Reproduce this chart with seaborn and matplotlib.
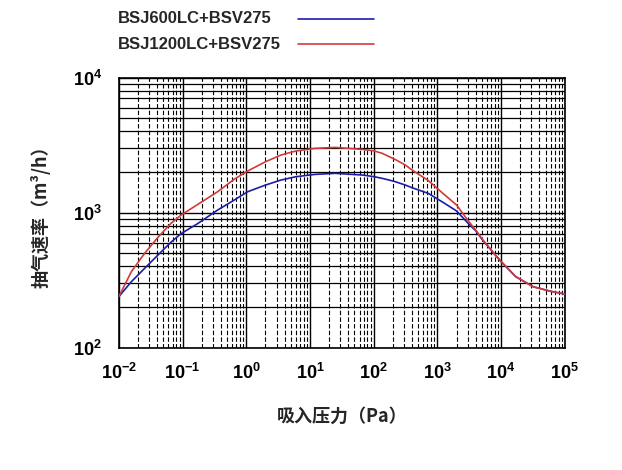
import numpy as np
import pandas as pd
import seaborn as sns
import matplotlib.pyplot as plt
from matplotlib.lines import Line2D
from matplotlib.ticker import LogLocator, FuncFormatter, NullFormatter

# suction pressure (Pa) and pumping speed (m3/h)
pressure = [0.01, 0.0157, 0.0254, 0.041, 0.066, 0.095, 0.173, 0.355, 0.646,
            1.05, 2, 3.5, 6, 12, 25, 66, 100, 136, 178, 220, 316, 400, 720,
            1200, 2000, 3000, 4000, 5200, 7000, 9500, 17000, 32000, 60000, 100000]
speed_600 = [239, 308, 387, 485, 605, 700, 830, 1045, 1239,
             1428, 1600, 1743, 1845, 1920, 1955, 1900, 1850, 1795, 1740, 1694, 1600,
             1530, 1390, 1200, 1030, 840, 735, 622, 529, 446, 336, 283, 262, 250]
speed_1200 = [239, 365, 500, 656, 834, 960, 1150, 1428, 1766,
              2032, 2380, 2670, 2860, 2990, 3040, 2940, 2870, 2750, 2590, 2470, 2250,
              2070, 1730, 1400, 1140, 880, 743, 627, 529, 446, 336, 283, 262, 250]
series = ['BSJ600LC+BSV275', 'BSJ1200LC+BSV275']
colors = ['#1c1caa', '#d23a3a']

df = pd.concat([
    pd.DataFrame({'pressure': pressure, 'speed': speed_600, 'model': series[0]}),
    pd.DataFrame({'pressure': pressure, 'speed': speed_1200, 'model': series[1]}),
])

sns.set_theme(style='white')
plt.rcParams['font.family'] = ['Noto Sans CJK SC', 'DejaVu Sans']
plt.rcParams['mathtext.fontset'] = 'custom'
plt.rcParams['mathtext.bf'] = 'Liberation Sans:bold'
plt.rcParams['mathtext.rm'] = 'Liberation Sans:bold'

fig = plt.figure(figsize=(6.22, 4.70), dpi=100)
ax = fig.add_axes([0.191, 0.26, 0.717, 0.575])

sns.lineplot(data=df, x='pressure', y='speed', hue='model', palette=colors,
             linewidth=1.2, legend=False, ax=ax, zorder=3)
ax.set_xscale('log')
ax.set_yscale('log')
ax.set_xlim(1e-2, 1e5)
ax.set_ylim(1e2, 1e4)

ax.xaxis.set_major_locator(LogLocator(base=10, numticks=20))
ax.xaxis.set_minor_locator(LogLocator(base=10, subs=np.arange(2, 10), numticks=20))
ax.yaxis.set_major_locator(LogLocator(base=10, numticks=20))
ax.yaxis.set_minor_locator(LogLocator(base=10, subs=np.arange(2, 10), numticks=20))
fmt = FuncFormatter(lambda v, p: r'$\mathbf{10^{%d}}$' % round(np.log10(v)))
ax.xaxis.set_major_formatter(fmt)
ax.yaxis.set_major_formatter(fmt)
ax.xaxis.set_minor_formatter(NullFormatter())
ax.yaxis.set_minor_formatter(NullFormatter())

ax.grid(True, which='major', axis='both', color='black', linewidth=1.0, linestyle='-')
ax.grid(True, which='minor', axis='x', color='black', linewidth=0.8, linestyle=(0, (4, 2)))
ax.grid(True, which='minor', axis='y', color='black', linewidth=0.9, linestyle='-')
ax.tick_params(which='both', length=0, labelsize=13, colors='black')
ax.tick_params(axis='x', pad=11)
ax.tick_params(axis='y', pad=12)
for s in ax.spines.values():
    s.set_color('black')
    s.set_linewidth(1.2)

ax.set_xlabel('吸入压力（Pa）', fontsize=13, fontweight='bold', labelpad=17)
ax.set_ylabel('抽气速率（m³/h）', fontsize=13, fontweight='bold', labelpad=16)

# legend drawn at the top, text left and line on the right
for i, (name, c) in enumerate(zip(series, colors)):
    y = 0.960 - i * 0.054
    fig.text(0.19, y, name, fontsize=12, fontweight='bold', va='center',
             family=['Liberation Sans', 'DejaVu Sans'])
    fig.add_artist(Line2D([0.479, 0.601], [y, y], color=c, linewidth=1.2))

fig.savefig('out.png', dpi=100)
